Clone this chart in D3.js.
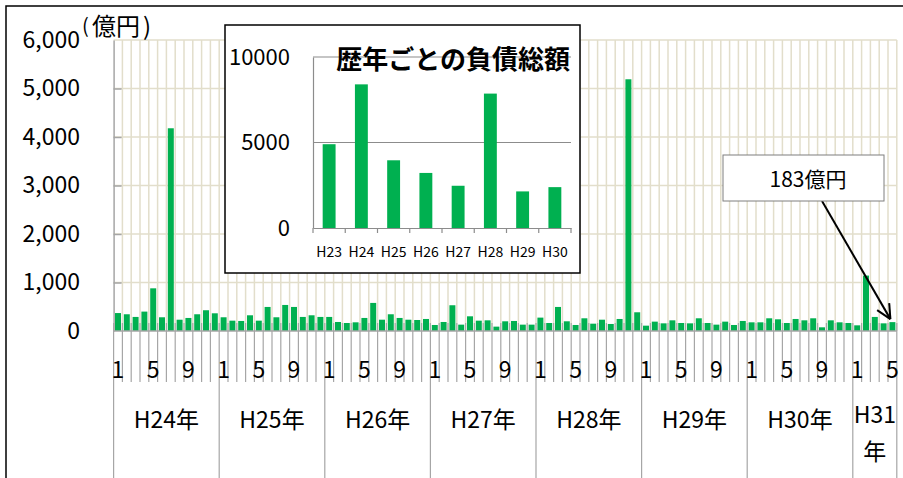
<!DOCTYPE html>
<html>
<head>
<meta charset="utf-8">
<script src="https://cdn.jsdelivr.net/npm/d3@7/dist/d3.min.js"></script>
<style>
  html, body { margin: 0; padding: 0; background: #fff; }
  svg { display: block; font-family: "Noto Sans CJK JP", "Noto Sans", sans-serif; }
</style>
</head>
<body>
<svg id="chart" width="903" height="478"></svg>
<script>
// Monthly total liabilities (億円), H24/1 – H31/5
const years = ["H24年", "H25年", "H26年", "H27年", "H28年", "H29年", "H30年", "H31年"];
const monthsPerYear = [12, 12, 12, 12, 12, 12, 12, 5];
const monthlyValues = [
  // H24
  370, 345, 290, 400, 880, 283, 4180, 233, 269, 345, 428, 365,
  // H25
  283, 213, 207, 324, 213, 496, 283, 537, 496, 290, 324, 290,
  // H26
  290, 186, 165, 179, 269, 579, 233, 345, 269, 233, 227, 248,
  // H27
  124, 186, 531, 131, 303, 213, 220, 90, 200, 207, 131, 131,
  // H28
  276, 165, 496, 200, 124, 262, 151, 233, 145, 248, 5190, 386,
  // H29
  110, 193, 158, 220, 165, 158, 262, 165, 131, 193, 124, 207,
  // H30
  179, 179, 262, 241, 165, 248, 220, 262, 76, 220, 179, 165,
  // H31
  117, 1143, 290, 158, 183
];
const yTicks = [0, 1000, 2000, 3000, 4000, 5000, 6000];
const monthTickLabels = [1, 5, 9];

// Annual totals shown in the inset
const annualYears = ["H23", "H24", "H25", "H26", "H27", "H28", "H29", "H30"];
const annualValues = [4900, 8400, 3960, 3220, 2470, 7860, 2140, 2390];
const annualTicks = [0, 5000, 10000];

const calloutText = "183億円";

const svg = d3.select("#chart");
const GREEN = "#00B050";
const GRID = "#E2DECB";
const AXIS = "#A6A6A6";

// Build month records
const records = [];
years.forEach((yr, yi) => {
  for (let m = 1; m <= monthsPerYear[yi]; m++) {
    records.push({ year: yr, yi, month: m, value: monthlyValues[records.length] });
  }
});

// Outer chart frame
svg.append("rect")
  .attr("x", 6).attr("y", 6).attr("width", 903).attr("height", 480)
  .attr("fill", "#fff").attr("stroke", "#000").attr("stroke-width", 1.5);

// ---------- main chart ----------
const plotL = 113.6, plotR = 896.8, plotT = 40, plotB = 331;
const pad = 0.32;
const x = d3.scaleBand()
  .domain(d3.range(records.length))
  .range([plotL, plotR])
  .paddingInner(pad).paddingOuter(pad / 2);
const step = x.step();
const y = d3.scaleLinear().domain([0, 6000]).range([plotB, plotT]);

const grid = svg.append("g");
// vertical gridlines at category boundaries
grid.selectAll("line.v")
  .data(d3.range(1, records.length + 1))
  .join("line")
  .attr("x1", k => plotL + k * step).attr("x2", k => plotL + k * step)
  .attr("y1", plotT).attr("y2", plotB)
  .attr("stroke", GRID).attr("stroke-width", 1.5);
// horizontal gridlines
grid.selectAll("line.h")
  .data(yTicks.filter(t => t > 0))
  .join("line")
  .attr("x1", plotL).attr("x2", plotR)
  .attr("y1", d => y(d)).attr("y2", d => y(d))
  .attr("stroke", GRID).attr("stroke-width", 1.5);

// bars
svg.append("g").selectAll("rect")
  .data(records)
  .join("rect")
  .attr("x", (d, i) => x(i))
  .attr("width", x.bandwidth())
  .attr("y", d => y(d.value))
  .attr("height", d => plotB - y(d.value))
  .attr("fill", GREEN);

// y axis
const yAxis = d3.axisLeft(y).tickValues(yTicks).tickSize(0).tickPadding(0)
  .tickFormat(d3.format(","));
const yg = svg.append("g").attr("transform", `translate(${plotL},0)`).call(yAxis);
yg.select(".domain").attr("stroke", AXIS).attr("stroke-width", 1.5);
yg.selectAll(".tick text")
  .attr("x", 80 - plotL)
  .attr("font-size", 23).attr("fill", "#000")
  .attr("font-family", "Noto Sans CJK JP");
// inner tick marks
yg.selectAll(".tick").filter(d => d > 0 && d < 6000).append("line")
  .attr("x1", 0).attr("x2", 8).attr("stroke", AXIS).attr("stroke-width", 1.5);

// unit label
const unit = svg.append("text").attr("y", 35).attr("font-size", 24).attr("fill", "#000");
unit.append("tspan").attr("x", 82).attr("dy", -2).attr("font-size", 20).text("(");
unit.append("tspan").attr("x", 92).attr("dy", 2).text("億円");
unit.append("tspan").attr("x", 143).text(")");

// category axis: baseline, month ticks crossing, year separators
const cat = svg.append("g");
cat.selectAll("line.mt")
  .data(d3.range(0, records.length + 1))
  .join("line")
  .attr("x1", k => plotL + k * step).attr("x2", k => plotL + k * step)
  .attr("y1", plotB - 8).attr("y2", 382)
  .attr("stroke", AXIS).attr("stroke-width", 1.2);
const yearStarts = [];
let acc = 0;
monthsPerYear.forEach(n => { yearStarts.push(acc); acc += n; });
yearStarts.push(acc);
cat.selectAll("line.yt")
  .data(yearStarts)
  .join("line")
  .attr("x1", k => plotL + k * step).attr("x2", k => plotL + k * step)
  .attr("y1", 382).attr("y2", 478)
  .attr("stroke", AXIS).attr("stroke-width", 1.2);
cat.append("line")
  .attr("x1", plotL).attr("x2", plotR).attr("y1", plotB).attr("y2", plotB)
  .attr("stroke", AXIS).attr("stroke-width", 1.5);

// month labels
cat.selectAll("text.m")
  .data(records.map((d, i) => ({ ...d, i })).filter(d => monthTickLabels.includes(d.month)))
  .join("text")
  .attr("x", d => x(d.i) + x.bandwidth() / 2)
  .attr("y", 368)
  .attr("text-anchor", "middle").attr("dominant-baseline", "central")
  .attr("font-size", 23).attr("fill", "#000")
  .text(d => d.month);

// year labels
years.forEach((yr, yi) => {
  const cx = plotL + (yearStarts[yi] + yearStarts[yi + 1]) / 2 * step;
  const t = cat.append("text")
    .attr("text-anchor", "middle").attr("font-size", 23).attr("fill", "#000");
  if (monthsPerYear[yi] < 12) {
    t.append("tspan").attr("x", cx).attr("y", 423).text(yr.slice(0, -1));
    t.append("tspan").attr("x", cx).attr("y", 460).text(yr.slice(-1));
  } else {
    t.attr("x", cx).attr("y", 428).text(yr);
  }
});

// ---------- inset: annual totals ----------
const inset = svg.append("g");
inset.append("rect")
  .attr("x", 225).attr("y", 25).attr("width", 355).attr("height", 248)
  .attr("fill", "#fff").attr("stroke", "#000").attr("stroke-width", 1.5);

const iLeft = 313, iRight = 571, iBase = 228, iTop = 57;
const ix = d3.scaleBand().domain(annualYears).range([iLeft, iRight]).paddingInner(0.6).paddingOuter(0.3);
const iy = d3.scaleLinear().domain([0, 10000]).range([iBase, iTop]);

inset.selectAll("line.ig")
  .data(annualTicks.filter(t => t > 0))
  .join("line")
  .attr("x1", iLeft).attr("x2", iRight)
  .attr("y1", d => iy(d)).attr("y2", d => iy(d))
  .attr("stroke", "#8C8C8C").attr("stroke-width", 1.2);

inset.selectAll("rect.ib")
  .data(annualYears)
  .join("rect")
  .attr("x", d => ix(d))
  .attr("width", ix.bandwidth())
  .attr("y", (d, i) => iy(annualValues[i]))
  .attr("height", (d, i) => iBase - iy(annualValues[i]))
  .attr("fill", GREEN);

const iyAxis = d3.axisLeft(iy).tickValues(annualTicks).tickSize(0).tickPadding(0).tickFormat(d3.format("d"));
const iyg = inset.append("g").attr("transform", `translate(${iLeft},0)`).call(iyAxis);
iyg.select(".domain").attr("stroke", "#8C8C8C").attr("stroke-width", 1.2);
iyg.selectAll(".tick text").attr("x", 290 - iLeft)
  .attr("font-size", 22).attr("fill", "#000").attr("font-family", "Noto Sans CJK JP");

const ixAxis = d3.axisBottom(ix).tickSize(0).tickPadding(0);
const ixg = inset.append("g").attr("transform", `translate(0,${iBase})`).call(ixAxis);
ixg.select(".domain").attr("stroke", "#8C8C8C").attr("stroke-width", 1.2);
ixg.selectAll(".tick text").attr("y", 19)
  .attr("font-size", 14).attr("fill", "#000").attr("font-family", "Noto Sans CJK JP");
inset.selectAll("line.itk")
  .data(d3.range(annualYears.length + 1))
  .join("line")
  .attr("x1", k => iLeft + k * ix.step()).attr("x2", k => iLeft + k * ix.step())
  .attr("y1", iBase).attr("y2", iBase + 5)
  .attr("stroke", "#8C8C8C").attr("stroke-width", 1.2);

inset.append("text")
  .attr("x", 570).attr("y", 57)
  .attr("text-anchor", "end").attr("dominant-baseline", "central")
  .attr("font-size", 26).attr("font-weight", "bold").attr("fill", "#000")
  .text("歴年ごとの負債総額");

// ---------- callout for latest month ----------
const lastIdx = records.length - 1;
const tipX = x(lastIdx) + x.bandwidth() / 2 - 2;
const tipY = y(records[lastIdx].value) - 3;
const call = svg.append("g");
call.append("line")
  .attr("x1", 822).attr("y1", 201).attr("x2", tipX).attr("y2", tipY)
  .attr("stroke", "#000").attr("stroke-width", 2);
const ang = Math.atan2(tipY - 201, tipX - 822);
[ang + Math.PI - 0.45, ang + Math.PI + 0.45].forEach(a => {
  call.append("line")
    .attr("x1", tipX).attr("y1", tipY)
    .attr("x2", tipX + 16 * Math.cos(a)).attr("y2", tipY + 16 * Math.sin(a))
    .attr("stroke", "#000").attr("stroke-width", 2);
});
call.append("rect")
  .attr("x", 723).attr("y", 155).attr("width", 161).attr("height", 46)
  .attr("fill", "#fff").attr("stroke", "#7F7F7F").attr("stroke-width", 1);
call.append("text")
  .attr("x", 808).attr("y", 178)
  .attr("text-anchor", "middle").attr("dominant-baseline", "central")
  .attr("font-size", 21).attr("fill", "#000")
  .text(calloutText);
</script>
</body>
</html>
